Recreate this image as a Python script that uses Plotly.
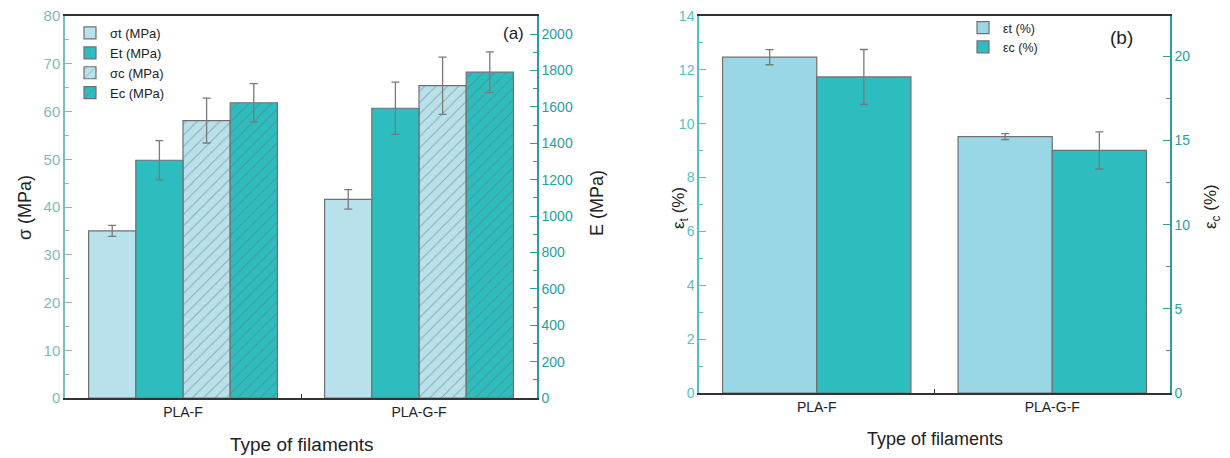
import plotly.graph_objects as go

# ---- data ----
filaments = ["PLA-F", "PLA-G-F"]

sigma_t = [35.0, 41.6]
sigma_t_err = [1.15, 2.05]
E_t = [1307, 1593]
E_t_err = [108, 144]
sigma_c = [58.1, 65.4]
sigma_c_err = [4.7, 6.0]
E_c = [1623, 1791]
E_c_err = [105, 112]

eps_t = [12.47, 9.52]
eps_t_err = [0.28, 0.11]
eps_c = [18.78, 14.41]
eps_c_err = [1.63, 1.10]

# ---- styling ----
W, H = 1230, 458
FONT = "Arial, Liberation Sans, sans-serif"
LIGHT = "#b9e1ec"
LIGHT_B = "#9ad7e6"
TEAL = "#2ebdbf"
EDGE = "#707070"
ERR = "#7a7a7a"
AX_L_A = "#7dbcbc"
AX_R_A = "#2a9d9d"
AX_L_B = "#55c0c0"
AX_R_B = "#2a9fa0"


def px_x(p):
    return p / W


def px_y(p):
    return 1 - p / H


def err(vals):
    return dict(type="data", array=vals, color=ERR, thickness=1.3, width=4)


fig = go.Figure()

# panel (a): strengths on left axis, moduli on right axis
bars_a = [
    ("σt (MPa)", sigma_t, sigma_t_err, "y", LIGHT, ""),
    ("Et (MPa)", E_t, E_t_err, "y2", TEAL, ""),
    ("σc (MPa)", sigma_c, sigma_c_err, "y", LIGHT, "/"),
    ("Ec (MPa)", E_c, E_c_err, "y2", TEAL, "/"),
]
for i, (name, vals, errs, yax, color, shape) in enumerate(bars_a):
    fig.add_trace(go.Bar(
        x=filaments, y=vals, name=name, xaxis="x", yaxis=yax,
        offset=-0.4 + 0.2 * i, width=0.2,
        marker=dict(color=color, line=dict(color=EDGE, width=1.2),
                    pattern=dict(shape=shape, fgcolor="#6a6a6a", size=8,
                                 solidity=0.12, fillmode="overlay")),
        error_y=err(errs), legend="legend",
    ))

# panel (b): elongation
bars_b = [
    ("εt (%)", eps_t, eps_t_err, "y3", LIGHT_B),
    ("εc (%)", eps_c, eps_c_err, "y4", TEAL),
]
for i, (name, vals, errs, yax, color) in enumerate(bars_b):
    fig.add_trace(go.Bar(
        x=filaments, y=vals, name=name, xaxis="x2", yaxis=yax,
        offset=-0.4 + 0.4 * i, width=0.4,
        marker=dict(color=color, line=dict(color=EDGE, width=1.2)),
        error_y=err(errs), legend="legend2",
    ))

dom_a = [px_x(65), px_x(537)]
dom_b = [px_x(699), px_x(1170)]
ydom_a = [px_y(398), px_y(16)]
ydom_b = [px_y(393), px_y(16)]


def xaxis(domain, anchor):
    return dict(domain=domain, anchor=anchor, type="category", range=[-0.5, 1.5],
                showline=True, linecolor="#333333", linewidth=1.5, mirror=True,
                ticks="inside", tickson="boundaries", ticklen=4, tickcolor="#333333",
                tickfont=dict(family=FONT, size=14, color="#222222"),
                showgrid=False, zeroline=False, automargin=False)


def yaxis(domain, anchor, rng, dtick, mdtick, color, lcolor, side="left", overlay=None, size=15):
    d = dict(domain=domain, anchor=anchor, range=rng, dtick=dtick, side=side,
             showline=True, linecolor=lcolor, linewidth=1.5,
             ticks="inside", ticklen=7, tickwidth=1.2, tickcolor=lcolor,
             minor=dict(ticks="inside", ticklen=4, dtick=mdtick, tickcolor=lcolor, tickwidth=1.2),
             tickfont=dict(family=FONT, size=size, color=color),
             showgrid=False, zeroline=False, automargin=False)
    if overlay:
        d["overlaying"] = overlay
    return d


fig.update_layout(
    width=W, height=H,
    margin=dict(l=0, r=0, t=0, b=0),
    paper_bgcolor="white", plot_bgcolor="white",
    barmode="overlay",
    font=dict(family=FONT, color="#222222"),
    xaxis=xaxis(dom_a, "y"),
    xaxis2=xaxis(dom_b, "y3"),
    yaxis=yaxis(ydom_a, "x", [0, 80], 10, 5, AX_L_A, AX_L_A, size=15),
    yaxis2=yaxis(ydom_a, "x", [0, 2100], 200, 100, AX_R_A, AX_R_A, side="right", overlay="y", size=14),
    yaxis3=yaxis(ydom_b, "x2", [0, 14], 2, 1, AX_L_B, AX_L_B, size=14),
    yaxis4=yaxis(ydom_b, "x2", [0, 22.4], 5, 2.5, AX_R_B, AX_R_B, side="right", overlay="y3", size=14),
    legend=dict(x=px_x(70), y=px_y(18), xanchor="left", yanchor="top",
                bgcolor="rgba(0,0,0,0)", tracegroupgap=0, itemwidth=30,
                font=dict(family=FONT, size=13, color="#222222")),
    legend2=dict(x=px_x(963), y=px_y(13), xanchor="left", yanchor="top",
                 bgcolor="rgba(0,0,0,0)", tracegroupgap=0, itemwidth=30,
                 font=dict(family=FONT, size=12.5, color="#222222")),
    showlegend=True,
)

# axis titles and panel labels
texts = [
    (25, 208, "σ (MPa)", -90, 18),
    (597, 203, "E (MPa)", -90, 18),
    (302, 444, "Type of filaments", 0, 19),
    (680, 208, "ε<sub>t</sub> (%)", -90, 17),
    (1212, 207, "ε<sub>c</sub> (%)", -90, 17),
    (935, 439, "Type of filaments", 0, 18),
    (513, 33, "(a)", 0, 17),
    (1121, 37, "(b)", 0, 19),
]
for x, y, t, ang, s in texts:
    fig.add_annotation(x=px_x(x), y=px_y(y), xref="paper", yref="paper", text=t,
                       textangle=ang, showarrow=False, xanchor="center", yanchor="middle",
                       font=dict(family=FONT, size=s, color="#222222"))

fig.write_html("out.html")
